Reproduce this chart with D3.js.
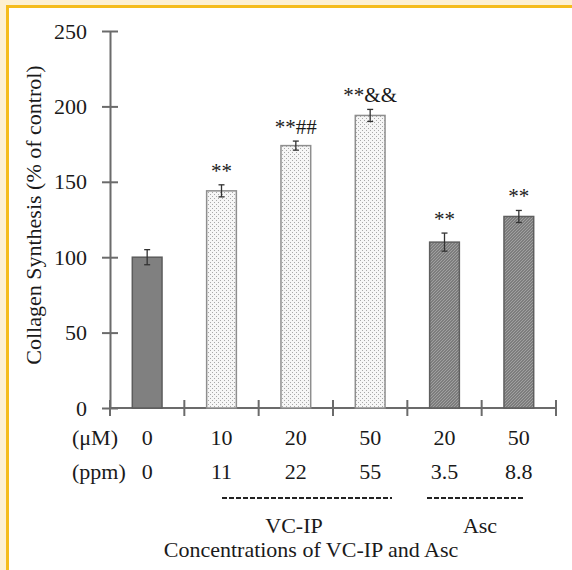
<!DOCTYPE html>
<html>
<head>
<meta charset="utf-8">
<script src="https://cdn.jsdelivr.net/npm/d3@7"></script>
<style>
  body { margin: 0; background: #fff; }
  text { font-family: "Liberation Serif", "Times New Roman", serif; fill: #1a1a1a; }
</style>
</head>
<body>
<div id="chart"></div>
<script>
// chart values
var groups = ["Control", "VC-IP 10", "VC-IP 20", "VC-IP 50", "Asc 20", "Asc 50"];
var kinds  = ["control", "VC-IP", "VC-IP", "VC-IP", "Asc", "Asc"];
var uM     = ["0", "10", "20", "50", "20", "50"];
var ppm    = ["0", "11", "22", "55", "3.5", "8.8"];
var values = [100, 144, 174, 194, 110, 127];
var errors = [5, 4, 3, 4, 6, 4];
var marks  = ["", "**", "**##", "**&&", "**", "**"];
var yTicks = [0, 50, 100, 150, 200, 250];

var W = 572, H = 570;
var p = {"top": 31, "left": 110, "right": 16, "bottom": 162};

var svg = d3.select("#chart").append("svg")
  .attr("width", W)
  .attr("height", H)

// page frame
svg.append("rect").attr("x", 0).attr("y", 0).attr("width", W).attr("height", 5).attr("fill", "#fdf0d2");
svg.append("rect").attr("x", 0).attr("y", 0).attr("width", 6).attr("height", H).attr("fill", "#fdf0d2");
svg.append("rect").attr("x", 6).attr("y", 5).attr("width", W - 6).attr("height", 3).attr("fill", "#f5bc1c");
svg.append("rect").attr("x", 6).attr("y", 5).attr("width", 3).attr("height", H - 5).attr("fill", "#f5bc1c");

var defs = svg.append("defs");
// light dotted fill (VC-IP)
var dots = defs.append("pattern").attr("id", "dots")
  .attr("patternUnits", "userSpaceOnUse").attr("width", 4).attr("height", 4);
dots.append("rect").attr("width", 4).attr("height", 4).attr("fill", "#f6f6f6");
dots.append("rect").attr("x", 0).attr("y", 0).attr("width", 1).attr("height", 1).attr("fill", "#a8a8a8");
dots.append("rect").attr("x", 2).attr("y", 2).attr("width", 1).attr("height", 1).attr("fill", "#a8a8a8");
// dark hatched fill (Asc)
var hatch = defs.append("pattern").attr("id", "hatch")
  .attr("patternUnits", "userSpaceOnUse").attr("width", 3).attr("height", 3);
hatch.append("rect").attr("width", 3).attr("height", 3).attr("fill", "#7d7d7d");
hatch.append("path").attr("d", "M0,3 L3,0").attr("stroke", "#aaaaaa").attr("stroke-width", 0.8);

var fillOf = {"control": "#808080", "VC-IP": "url(#dots)", "Asc": "url(#hatch)"};
var strokeOf = {"control": "#5c5c5c", "VC-IP": "#8e8e8e", "Asc": "#5f5f5f"};

var y = d3.scaleLinear()
  .domain([0, 250])
  .range([H - p.bottom, p.top])

var x = d3.scaleBand()
  .domain(groups)
  .range([p.left, W - p.right])

var axisColor = "#6b6b6b";

// y axis, ticks cross the line
var yAxis = svg.append("g")
  .attr("transform", "translate(" + p.left + ",0)")
  .call(d3.axisLeft(y).tickValues(yTicks).tickSizeOuter(0).tickPadding(17))
yAxis.select(".domain").attr("stroke", axisColor).attr("stroke-width", 2);
yAxis.selectAll(".tick line").attr("x1", -8).attr("x2", 8).attr("stroke", axisColor).attr("stroke-width", 2);
yAxis.selectAll(".tick text").attr("font-size", 22).attr("font-family", "Liberation Serif").attr("fill", "#1a1a1a");

// x axis with ticks at the band edges
var edges = groups.map(function(g){ return x(g) }).concat([x.range()[1]]);
svg.append("line")
  .attr("x1", p.left).attr("x2", x.range()[1])
  .attr("y1", y(0)).attr("y2", y(0))
  .attr("stroke", axisColor).attr("stroke-width", 2)
svg.selectAll(".xtick")
  .data(edges)
  .enter()
    .append("line")
      .attr("class", "xtick")
      .attr("x1", function(d){ return d }).attr("x2", function(d){ return d })
      .attr("y1", y(0) - 8).attr("y2", y(0) + 8)
      .attr("stroke", axisColor).attr("stroke-width", 2)

var bw = x.bandwidth() * 0.4;

svg.selectAll(".bar")
  .data(values)
  .enter()
    .append("rect")
      .attr("class", "bar")
      .attr("x", function(d, i){ return x(groups[i]) + x.bandwidth() / 2 - bw / 2 })
      .attr("y", function(d){ return y(d) })
      .attr("width", bw)
      .attr("height", function(d){ return y(0) - y(d) })
      .attr("fill", function(d, i){ return fillOf[kinds[i]] })
      .attr("stroke", function(d, i){ return strokeOf[kinds[i]] })
      .attr("stroke-width", 1.5)

// error bars
var eb = svg.selectAll(".err")
  .data(values)
  .enter()
    .append("g")
      .attr("class", "err")
      .attr("transform", function(d, i){ return "translate(" + (x(groups[i]) + x.bandwidth() / 2) + ",0)" })
      .attr("stroke", "#333").attr("stroke-width", 1.3)
eb.append("line").attr("x1", 0).attr("x2", 0)
  .attr("y1", function(d, i){ return y(d + errors[i]) })
  .attr("y2", function(d, i){ return y(d - errors[i]) })
eb.append("line").attr("x1", -3).attr("x2", 3)
  .attr("y1", function(d, i){ return y(d + errors[i]) })
  .attr("y2", function(d, i){ return y(d + errors[i]) })
eb.append("line").attr("x1", -3).attr("x2", 3)
  .attr("y1", function(d, i){ return y(d - errors[i]) })
  .attr("y2", function(d, i){ return y(d - errors[i]) })

// significance marks
svg.selectAll(".mark")
  .data(marks)
  .enter()
    .append("text")
      .attr("class", "mark")
      .attr("x", function(d, i){ return x(groups[i]) + x.bandwidth() / 2 })
      .attr("y", function(d, i){ return y(values[i] + errors[i]) - 7 })
      .attr("text-anchor", "middle")
      .attr("font-size", 21)
      .text(function(d){ return d })

// concentration rows
function row(labels, yy) {
  svg.selectAll(null)
    .data(labels)
    .enter()
      .append("text")
        .attr("x", function(d, i){ return x(groups[i]) + x.bandwidth() / 2 })
        .attr("y", yy)
        .attr("text-anchor", "middle")
        .attr("font-size", 22)
        .text(function(d){ return d })
}
row(uM, 445);
row(ppm, 479);
svg.append("text").attr("x", 72).attr("y", 445).attr("font-size", 22).text("(\u03bcM)");
svg.append("text").attr("x", 72).attr("y", 479).attr("font-size", 22).text("(ppm)");

// dashed group underlines and names
var brackets = [{"name": "VC-IP", "x1": 222, "x2": 392, "lx": 294},
                {"name": "Asc", "x1": 427, "x2": 525, "lx": 480}];
brackets.forEach(function(b){
  svg.append("line")
    .attr("x1", b.x1).attr("x2", b.x2)
    .attr("y1", 498).attr("y2", 498)
    .attr("stroke", "#222").attr("stroke-width", 2)
    .attr("stroke-dasharray", "5,2")
  svg.append("text")
    .attr("x", b.lx).attr("y", 533)
    .attr("text-anchor", "middle")
    .attr("font-size", 22)
    .text(b.name)
});

svg.append("text")
  .attr("x", 311).attr("y", 557)
  .attr("text-anchor", "middle")
  .attr("font-size", 22)
  .text("Concentrations of VC-IP and Asc")

svg.append("text")
  .attr("transform", "translate(41,215) rotate(-90)")
  .attr("text-anchor", "middle")
  .attr("font-size", 22)
  .text("Collagen Synthesis (% of control)")
</script>
</body>
</html>
